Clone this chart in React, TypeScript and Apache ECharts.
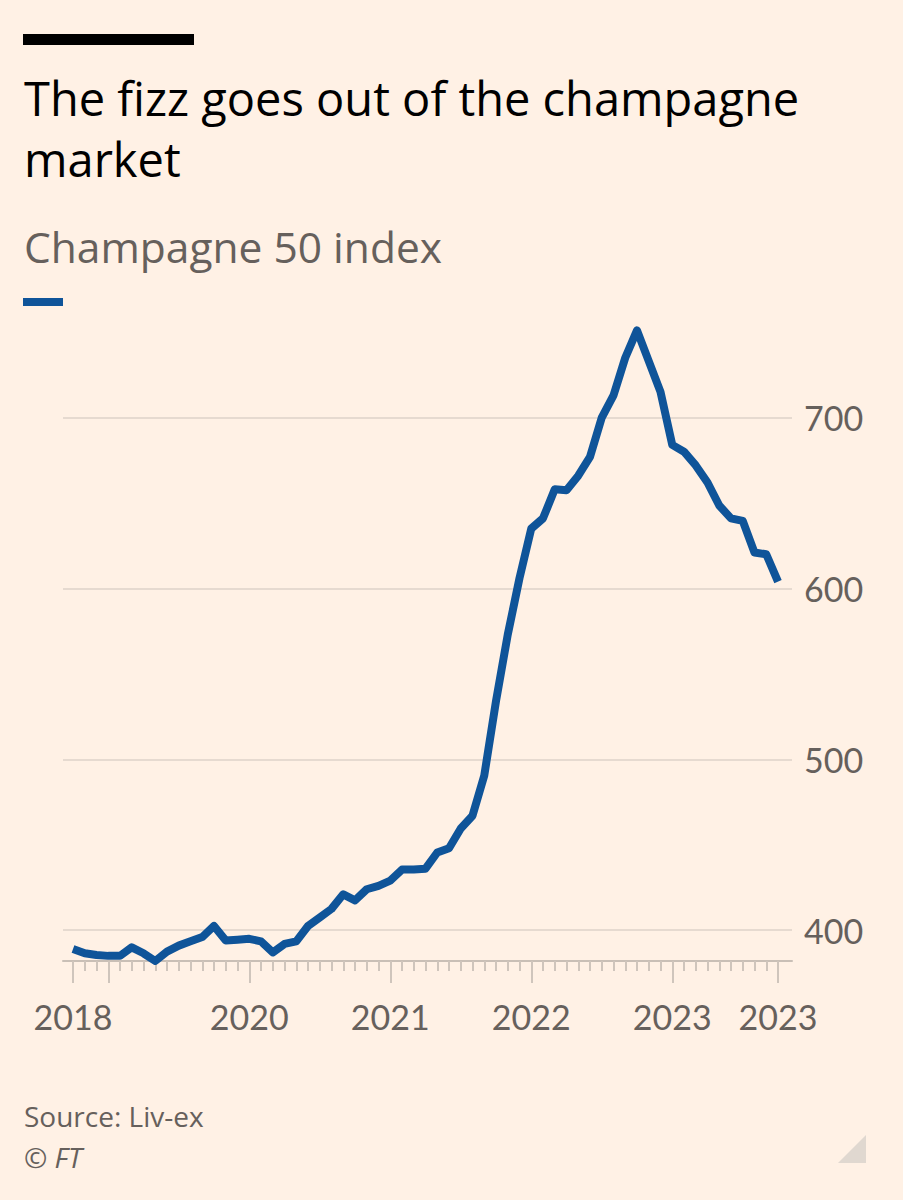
import React, { useEffect, useRef } from "react";
import * as echarts from "echarts";

// Monthly observations, Oct 2018 – Oct 2023
const months: string[] = [
  "2018-10", "2018-11", "2018-12",
  "2019-01", "2019-02", "2019-03", "2019-04", "2019-05", "2019-06", "2019-07", "2019-08", "2019-09", "2019-10", "2019-11", "2019-12",
  "2020-01", "2020-02", "2020-03", "2020-04", "2020-05", "2020-06", "2020-07", "2020-08", "2020-09", "2020-10", "2020-11", "2020-12",
  "2021-01", "2021-02", "2021-03", "2021-04", "2021-05", "2021-06", "2021-07", "2021-08", "2021-09", "2021-10", "2021-11", "2021-12",
  "2022-01", "2022-02", "2022-03", "2022-04", "2022-05", "2022-06", "2022-07", "2022-08", "2022-09", "2022-10", "2022-11", "2022-12",
  "2023-01", "2023-02", "2023-03", "2023-04", "2023-05", "2023-06", "2023-07", "2023-08", "2023-09", "2023-10",
];

const champagne50: number[] = [
  389, 386.5, 385.5,
  385, 385, 390, 386.5, 382, 387.5, 391, 393.5, 396, 402.5, 394, 394.5,
  395, 393.5, 387, 392, 393.5, 402.5, 407.5, 412.5, 421, 417.5, 424, 426,
  429, 435.5, 435.5, 436, 445.5, 448, 459.5, 467, 490.5, 534, 573, 606,
  635, 641, 658, 657.5, 666, 677, 700, 713, 735, 751, 733, 715,
  684, 680, 672, 662, 648.5, 641, 639.5, 621, 620, 604,
];

// Axis labels as printed on the chart, with the month they sit on
const xLabelMonths: string[] = ["2018-10", "2020-01", "2021-01", "2022-01", "2023-01", "2023-10"];
const xLabelTexts: string[] = ["2018", "2020", "2021", "2022", "2023", "2023"];
const longTickMonths: string[] = ["2018-10", "2019-01", "2020-01", "2021-01", "2022-01", "2023-01", "2023-10"];

const yMin = 382;
const yMax = 760;

const BG = "#FFF1E5";
const GREY_TEXT = "#66605C";
const FONT = "Lato, 'Noto Sans', sans-serif";
const HEAD_FONT = "'Open Sans', 'Noto Sans', sans-serif";

export default function App() {
  const ref = useRef<HTMLDivElement>(null);

  useEffect(() => {
    if (!ref.current) return;
    const chart = echarts.init(ref.current, undefined, { renderer: "svg" });

    const gridBottom = 239;
    const option: any = {
      animation: false,
      backgroundColor: BG,
      textStyle: { fontFamily: FONT },
      grid: [
        { left: 73, right: 125, top: 315, bottom: gridBottom, outerBoundsMode: "none", containLabel: false },
        { left: 63, right: 111, top: 315, bottom: gridBottom, outerBoundsMode: "none", containLabel: false },
      ],
      xAxis: [
        {
          type: "category",
          gridIndex: 0,
          data: months,
          boundaryGap: false,
          axisLine: { show: false },
          axisTick: { show: true, interval: 0, length: 10, lineStyle: { color: "#CFC5BC", width: 2 } },
          axisLabel: {
            show: true,
            interval: (i: number, v: string) => xLabelMonths.indexOf(v) >= 0,
            formatter: (v: string) => {
              const k = xLabelMonths.indexOf(v);
              return k >= 0 ? xLabelTexts[k] : "";
            },
            color: GREY_TEXT,
            fontSize: 34,
            fontFamily: FONT,
            margin: 38,
            hideOverlap: false,
          },
          splitLine: { show: false },
        },
        {
          type: "category",
          gridIndex: 0,
          data: months,
          boundaryGap: false,
          position: "bottom",
          axisLine: { show: false },
          axisTick: {
            show: true,
            interval: (i: number, v: string) => longTickMonths.indexOf(v) >= 0,
            length: 22,
            lineStyle: { color: "#CFC5BC", width: 2 },
          },
          axisLabel: { show: false },
          splitLine: { show: false },
        },
        {
          type: "value",
          gridIndex: 1,
          min: 0,
          max: 1,
          axisLine: { show: true, lineStyle: { color: "#C9BFB6", width: 2 } },
          axisTick: { show: false },
          axisLabel: { show: false },
          splitLine: { show: false },
        },
      ],
      yAxis: [
        { type: "value", gridIndex: 0, min: yMin, max: yMax, show: false },
        {
          type: "value",
          gridIndex: 1,
          min: yMin,
          max: yMax,
          position: "right",
          axisLine: { show: false },
          axisTick: { show: false },
          axisLabel: {
            color: GREY_TEXT,
            fontSize: 34,
            fontFamily: FONT,
            margin: 12,
            showMinLabel: false,
            showMaxLabel: false,
            formatter: (v: number) => (v % 100 === 0 ? String(v) : ""),
          },
          splitLine: {
            show: true,
            showMinLine: false,
            showMaxLine: false,
            lineStyle: { color: "#E6DAD0", width: 2 },
          },
        },
      ],
      series: [
        {
          type: "line",
          name: "Champagne 50 index",
          xAxisIndex: 0,
          yAxisIndex: 0,
          data: champagne50,
          showSymbol: false,
          symbol: "none",
          lineStyle: { color: "#0F5499", width: 8, join: "round", cap: "butt" },
          z: 5,
        },
      ],
      graphic: [
        { type: "rect", shape: { x: 23, y: 34, width: 171, height: 11 }, style: { fill: "#000000" } },
        {
          type: "text", x: 24, y: 98,
          style: { text: "The fizz goes out of the champagne", fill: "#000000", fontSize: 47, fontFamily: HEAD_FONT, verticalAlign: "middle", align: "left" },
        },
        {
          type: "text", x: 24, y: 159,
          style: { text: "market", fill: "#000000", fontSize: 47, fontFamily: HEAD_FONT, verticalAlign: "middle", align: "left" },
        },
        {
          type: "text", x: 24, y: 246,
          style: { text: "Champagne 50 index", fill: GREY_TEXT, fontSize: 42.5, fontFamily: HEAD_FONT, verticalAlign: "middle", align: "left" },
        },
        { type: "rect", shape: { x: 23, y: 298, width: 40, height: 8 }, style: { fill: "#0F5499" } },
        {
          type: "text", x: 24, y: 1116,
          style: { text: "Source: Liv-ex", fill: GREY_TEXT, fontSize: 28, fontFamily: HEAD_FONT, verticalAlign: "middle", align: "left" },
        },
        {
          type: "text", x: 24, y: 1157,
          style: { text: "© FT", fill: GREY_TEXT, fontSize: 28, fontStyle: "italic", fontFamily: HEAD_FONT, verticalAlign: "middle", align: "left" },
        },
        {
          type: "polygon",
          shape: { points: [[838, 1163], [866, 1135], [866, 1163]] },
          style: { fill: "#E0D8D0" },
        },
      ],
    };

    chart.setOption(option);
    return () => chart.dispose();
  }, []);

  return (
    <div
      ref={ref}
      style={{ position: "absolute", left: 0, top: 0, width: 903, height: 1200 }}
    />
  );
}
